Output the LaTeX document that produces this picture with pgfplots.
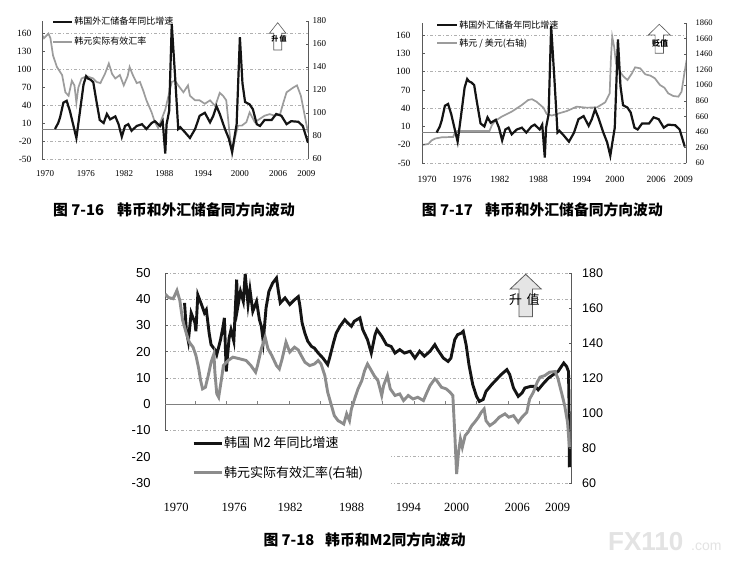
\documentclass[border=0pt]{standalone}
\usepackage{pgfplots}
\pgfplotsset{compat=1.18}
\usepackage{pgfplotstable}
\usepackage{fontspec}
\setmainfont{Liberation Serif}
\setsansfont{Liberation Sans}
\newfontfamily\cjk{Noto Sans CJK SC}
\definecolor{ink}{HTML}{141414}
\definecolor{ltgray}{HTML}{9C9C9C}
\definecolor{midgray}{HTML}{8C8C8C}
\definecolor{axgray}{HTML}{5A5A5A}
\definecolor{gridc}{HTML}{B0B0B0}
\newcommand\fsz[1]{\fontsize{#1bp}{#1bp}\selectfont}

% reserve growth (chart 7-16 and 7-17), %
\pgfplotstableread{
x y
1971.5 0
1972.0 10
1972.3 20
1972.8 44
1973.3 47
1973.8 30
1974.4 3
1974.8 -15
1975.3 25
1975.9 74
1976.3 88
1976.6 84
1977.0 82
1977.4 78
1977.8 52
1978.4 15
1979.0 10
1979.5 25
1980.0 16
1980.8 21
1981.3 8
1981.8 -13
1982.3 5
1982.8 8
1983.3 -3
1984.1 5
1984.9 8
1985.6 0
1986.4 10
1986.9 13
1987.7 5
1988.1 13
1988.5 -41
1988.7 8
1989.1 30
1989.5 175
1990.0 90
1990.5 0
1990.8 3
1991.5 -5
1992.3 -15
1993.1 0
1993.8 22
1994.6 27
1995.4 11
1995.9 22
1996.4 38
1996.9 25
1997.7 0
1998.3 -16
1998.8 -38
1999.1 -18
1999.5 8
2000.0 153
2000.4 76
2000.8 45
2001.5 41
2002.0 33
2002.6 8
2003.1 5
2003.8 15
2004.9 15
2005.6 25
2006.4 22
2007.2 8
2007.9 13
2009.0 12
2009.7 5
2010.5 -23
}\resgrowth

% real effective exchange rate (chart 7-16)
\pgfplotstableread{
x y
1969.5 168
1969.8 165
1970.5 169
1970.8 165
1971.2 150
1971.8 140
1972.6 133
1973.1 118
1973.6 115
1974.1 128
1974.5 124
1974.8 109
1975.1 122
1975.6 130
1976.4 132
1977.4 130
1977.9 127
1978.5 126
1979.2 134
1979.8 143
1980.3 134
1980.8 130
1981.5 133
1982.1 124
1982.7 132
1983.0 140
1983.5 133
1984.1 126
1984.6 127
1985.1 119.5
1985.6 111
1986.4 100.5
1986.9 92
1987.4 87
1987.9 94
1988.5 103
1989.0 115
1989.5 127
1990.0 128
1990.5 124
1991.3 118
1992.0 124
1992.3 115
1993.1 111
1993.8 111
1994.6 108
1995.4 111
1996.2 106
1996.9 117.5
1997.4 115
1997.9 111
1998.4 83
1998.8 64
1999.2 77
1999.7 89
2000.3 89
2001.0 92
2001.5 100.5
2002.3 92
2003.1 95
2003.8 97.6
2004.6 99
2005.4 97.6
2006.2 99
2006.7 109
2007.2 118
2008.2 122
2008.8 124
2009.4 115
2010.0 97.6
2010.5 83
}\reerA

% KRW per USD (chart 7-17)
\pgfplotstableread{
x y
1969.2 291
1970.2 305
1970.7 350
1971.3 375
1972.3 390
1974.1 395
1974.4 455
1974.7 470
1979.8 470
1980.2 549
1980.7 600
1981.7 655
1983.3 720
1984.9 806
1985.9 870
1986.5 880
1987.2 848
1988.3 770
1988.8 690
1989.6 670
1990.4 690
1992.0 729
1993.5 784
1995.1 771
1996.7 775
1998.0 840
1998.7 956
1998.9 1406
1999.1 1684
1999.4 1556
1999.7 1342
2000.3 1234
2000.9 1170
2001.5 1127
2002.2 1213
2002.7 1290
2003.5 1277
2004.3 1200
2005.1 1183
2005.8 1149
2006.6 1063
2007.3 1028
2007.9 956
2008.7 921
2009.5 913
2010.0 977
2010.4 1192
2010.8 1385
}\krwusd

% M2 growth (chart 7-18), %
\pgfplotstableread{
x y
1970.9 38.6
1971.1 27.8
1971.3 24
1971.6 34.8
1972.0 31
1972.1 27.8
1972.3 41.7
1972.7 37.9
1973.0 34.8
1973.2 36
1973.5 27
1973.7 22.7
1974.1 20.8
1974.3 18.9
1974.7 24.6
1975.0 30.3
1975.1 32.9
1975.3 12.5
1975.6 25.2
1975.8 28.4
1976.1 24
1976.4 47.5
1976.5 36.7
1976.8 43
1977.1 39.2
1977.3 49.6
1977.6 38
1977.8 43.7
1978.1 35.4
1978.5 39.2
1978.8 32.2
1979.0 29.7
1979.2 24
1979.5 36.7
1979.8 43
1980.2 46.2
1980.6 48.1
1980.8 43
1981.0 38.6
1981.5 40.5
1982.0 38
1982.5 39.8
1982.9 41
1983.05 38
1983.3 31
1983.6 27
1983.9 24
1984.3 22
1984.6 21.4
1985.0 19.5
1985.5 17.6
1986.0 15.1
1986.2 17.6
1986.6 23.3
1986.9 27.1
1987.3 29.7
1987.8 32.2
1988.1 31
1988.5 29.7
1988.8 31.6
1989.4 32.9
1989.7 28.4
1990.2 24.6
1990.6 19.5
1991.0 26.5
1991.2 28.4
1991.7 25.9
1992.2 22.7
1992.7 22
1993.1 19.5
1993.6 20.8
1994.1 19.5
1994.7 20.2
1995.2 17.6
1995.7 20.2
1996.2 18.3
1996.8 20.2
1997.3 22.7
1997.6 20.8
1998.2 17.6
1998.7 16.3
1999.0 17.6
1999.4 24.6
1999.7 26.5
2000.1 27.1
2000.3 27.8
2000.6 22.7
2000.9 15.1
2001.3 7.5
2001.7 3
2002.0 1.1
2002.4 1.8
2002.7 4.9
2003.3 7.5
2003.8 9.4
2004.3 11.3
2004.9 13.2
2005.2 11.3
2005.6 6.2
2006.1 3
2006.5 4.3
2006.8 6.2
2007.4 6.8
2007.9 6.8
2008.2 5.5
2008.8 8.1
2009.3 10
2009.8 11.3
2010.3 12.5
2010.9 15.7
2011.2 14.4
2011.4 12.5
2011.45 2
2011.5 -24
}\mtwo

% real effective exchange rate (chart 7-18)
\pgfplotstableread{
x y
1968.84 168
1969.2 166
1969.7 165.3
1970.1 170
1970.4 164.4
1970.7 153
1971.1 145.3
1971.4 140.5
1971.8 137.6
1972.1 132.9
1972.4 125.2
1972.6 118.5
1972.8 113.8
1973.1 114.7
1973.4 121.4
1973.7 129
1974.0 133.8
1974.1 123.3
1974.3 111
1974.5 109
1974.8 119.5
1975.0 127.1
1975.5 130
1976.0 131.9
1976.7 131
1977.4 130
1977.9 127.1
1978.4 123.3
1978.6 127.1
1979.0 136.7
1979.4 143.4
1979.7 136.7
1980.1 132.9
1980.6 127.1
1980.9 125.2
1981.2 131
1981.6 140.5
1982.0 134.8
1982.5 137.6
1982.9 136
1983.2 132.9
1983.6 129
1984.1 127.1
1984.6 128
1985.0 130
1985.3 128
1985.7 121.4
1986.0 111.9
1986.4 104.2
1986.7 98.5
1987.1 95.6
1987.4 94.7
1987.7 93.7
1988.0 99.5
1988.3 95.6
1988.5 102.3
1988.9 109
1989.2 113.8
1989.6 118.5
1989.9 124.3
1990.2 128
1990.5 125.2
1990.9 121.4
1991.3 118.5
1991.7 110
1991.9 115.7
1992.3 121.4
1992.6 113.8
1993.1 110
1993.6 110.9
1994.0 107.1
1994.5 110
1995.0 108
1995.5 109
1996.1 107.1
1996.4 110.9
1996.8 115.7
1997.3 119.5
1997.5 118.5
1998.0 114.7
1998.5 113.8
1998.9 111.9
1999.2 110
1999.4 89
1999.6 65.1
1999.8 77.5
2000.0 85.2
2000.2 80.4
2000.5 87.1
2000.8 89
2001.2 92.8
2001.5 94.7
2001.9 97.6
2002.2 100.4
2002.5 102.3
2002.7 95.6
2003.1 92.8
2003.6 94.7
2004.1 97.6
2004.7 99.5
2005.1 97.6
2005.6 98.5
2006.1 94.7
2006.5 97.6
2007.0 100.4
2007.3 108
2007.7 111.9
2008.1 117.6
2008.4 120.5
2008.9 121.4
2009.4 123.3
2010.0 123.7
2010.3 119.5
2010.7 110.9
2011.0 104.2
2011.3 94.7
2011.5 80.4
}\reerB

\pgfplotsset{
  base/.style={scale only axis, anchor=south west,
    axis line style={-, axgray, line width=0.6bp},
    tick align=inside, major tick length=2.5bp,
    tick style={axgray, line width=0.5bp},
    major grid style={gridc, line width=0.5bp, dash pattern=on 3bp off 2bp on 1bp off 2bp},
    legend cell align=left},
  lbot/.style={axis y line*=left, axis x line*=bottom,
    x axis line style={draw=none}, xtick style={draw=none}},
  rside/.style={axis x line=none, axis y line*=right},
}

\begin{document}
\begin{tikzpicture}[x=1bp,y=1bp]
\useasboundingbox (0,0) rectangle (733,565);
\fill[white] (0,0) rectangle (733,565);

%================ chart 7-16 ================
\begin{axis}[base, rside, at={(42bp,406bp)}, width=266bp, height=138bp,
  xmin=1969.5, xmax=2010.5, ymin=60, ymax=180,
  ytick={60,80,...,180}, yticklabels={60,80,100,120,140,160,180},
  yticklabel style={font=\fsz{9}, xshift=1bp},
  extra y ticks={60,75.65,106.96,138.26,169.57}, extra y tick labels={},
  extra y tick style={grid=major, major tick length=0pt}]
\addplot[ltgray, line width=1.7bp] table {\reerA};
\end{axis}
\begin{axis}[base, lbot, at={(42bp,406bp)}, width=266bp, height=138bp,
  xmin=1969.5, xmax=2010.5, ymin=-50, ymax=180,
  xtick={1970,1976.26,1982.15,1988.35,1994.35,2000,2005.9,2010.26},
  xticklabels={1970,1976,1982,1988,1994,2000,2006,2009},
  xticklabel style={font=\fsz{9}, yshift=-8bp},
  ytick={-50,-20,...,160}, yticklabels={-50,-20,10,40,70,100,130,160},
  yticklabel style={font=\fsz{9.5}, xshift=-7bp},
  legend style={at={(axis description cs:0,1)}, anchor=north west, xshift=10bp, yshift=5bp,
    draw=none, fill=none, inner xsep=0pt, inner ysep=0pt, row sep=9bp,
    font=\cjk\fsz{9}, nodes={inner sep=1bp}},
  legend image code/.code={\draw[#1] (0bp,0bp) -- (19bp,0bp);}]
\addplot[gray, line width=0.6bp, forget plot] coordinates {(1969.5,0) (2010.5,0)};
\addplot[ink, line width=2.2bp] table {\resgrowth};
\addlegendentry{韩国外汇储备年同比增速}
\addlegendimage{ltgray, line width=1.7bp}
\addlegendentry{韩元实际有效汇率}
\end{axis}

%================ chart 7-17 ================
\begin{axis}[base, rside, at={(422bp,402bp)}, width=264bp, height=140bp,
  xmin=1969.2, xmax=2010.7, ymin=60, ymax=1860,
  ytick={60,260,...,1860}, yticklabels={60,260,460,660,860,1060,1260,1460,1660,1860},
  yticklabel style={font=\fsz{8.5}, xshift=6bp},
  extra y ticks={60,294.8,764.3,1233.9,1703.5}, extra y tick labels={},
  extra y tick style={grid=major, major tick length=0pt}]
\addplot[ltgray, line width=1.7bp] table {\krwusd};
\end{axis}
\begin{axis}[base, lbot, at={(422bp,402bp)}, width=264bp, height=140bp,
  xmin=1969.2, xmax=2010.7, ymin=-50, ymax=180,
  xtick={1970,1975.45,1981.45,1987.5,1994.3,1999.5,2006,2010.3},
  xticklabels={1970,1976,1982,1988,1994,2000,2006,2009},
  xticklabel style={font=\fsz{9.5}, yshift=-10bp},
  ytick={-50,-20,...,160}, yticklabels={-50,-20,10,40,70,100,130,160},
  yticklabel style={font=\fsz{9.5}, xshift=-8bp},
  legend style={at={(axis description cs:0,1)}, anchor=north west, xshift=14bp, yshift=3.5bp,
    draw=none, fill=none, inner xsep=0pt, inner ysep=0pt, row sep=7bp,
    font=\cjk\fsz{9}, nodes={inner sep=1bp}},
  legend image code/.code={\draw[#1] (0bp,0bp) -- (20bp,0bp);}]
\addplot[gray, line width=0.6bp, forget plot] coordinates {(1969.2,0) (2010.7,0)};
\addplot[ink, line width=2.2bp] table {\resgrowth};
\addlegendentry{韩国外汇储备年同比增速}
\addlegendimage{ltgray, line width=1.7bp}
\addlegendentry{韩元 / 美元(右轴)}
\end{axis}

%================ chart 7-18 ================
\begin{axis}[base, lbot, at={(165bp,82bp)}, width=406.7bp, height=210bp,
  xmin=1968.84, xmax=2011.74, ymin=-30, ymax=50,
  xtick={1970,1976.12,1982.03,1988.53,1994.51,1999.61,2006,2010.26},
  xticklabels={1970,1976,1982,1988,1994,2000,2006,2009},
  xticklabel style={font=\fsz{12.5}, yshift=-17bp},
  ytick={-30,-20,...,50}, yticklabels={-30,-20,-10,0,10,20,30,40,50},
  yticklabel style={font=\sffamily\fsz{13}, xshift=-11bp},
  ymajorgrids]
\addplot[gray, line width=0.7bp, forget plot] coordinates {(1968.84,0) (2011.74,0)};
\pgfplotsinvokeforeach{1972.0,1975.3,1978.6,1981.9,1985.2,1988.5,1991.8,1995.1,1998.4,2001.7,2005.0,2008.3}{
  \draw[gray, line width=0.6bp] (axis cs:#1,0) -- ++(0bp,3bp);}
\addplot[ink, line width=2.9bp] table {\mtwo};
\end{axis}
\begin{axis}[base, rside, at={(165bp,82bp)}, width=406.7bp, height=210bp,
  xmin=1968.84, xmax=2011.74, ymin=60, ymax=180,
  ytick={60,80,...,180}, yticklabels={60,80,100,120,140,160,180},
  yticklabel style={font=\sffamily\fsz{12.5}, xshift=7bp},
  legend style={at={(axis description cs:0,0)}, anchor=south west, yshift=-2bp,
    draw=none, fill=white, inner xsep=27bp, inner ysep=5bp, row sep=15bp,
    font=\cjk\fsz{13}, nodes={inner sep=1bp}},
  legend image code/.code={\draw[#1] (0bp,0bp) -- (28bp,0bp);}]
\addlegendimage{ink, line width=2.9bp}
\addlegendentry{韩国 M2 年同比增速}
\addplot[midgray, line width=2.9bp] table {\reerB};
\addlegendentry{韩元实际有效汇率(右轴)}
\end{axis}

%================ arrows ================
\draw[axgray, line width=0.6bp, fill=white]
  (277.7,542.3) -- (286,531.7) -- (281.7,531.7) -- (281.7,515) -- (273.7,515) -- (273.7,531.7) -- (269.4,531.7) -- cycle;
\node[font=\cjk\bfseries\fsz{7}, inner sep=0] at (279,526) {升\,值};
\draw[axgray, line width=0.6bp, fill=white]
  (659.3,540.7) -- (670.3,530) -- (663.5,530) -- (663.5,511.7) -- (655.1,511.7) -- (655.1,530) -- (648.3,530) -- cycle;
\node[font=\cjk\bfseries\fsz{8}, inner sep=0] at (660,521.7) {贬值};
\draw[axgray, line width=0.8bp, fill=black!10]
  (525.7,290.7) -- (541.2,276) -- (532.4,276) -- (532.4,248.3) -- (519,248.3) -- (519,276) -- (510.2,276) -- cycle;
\node[font=\cjk\fsz{13}, inner sep=0] at (515.7,265) {升};
\node[font=\cjk\fsz{13}, inner sep=0] at (533,265) {值};

%================ captions ================
\node[anchor=west, inner sep=0, font=\cjk\bfseries\fsz{14.8}] at (53,355) {图 7-16};
\node[anchor=west, inner sep=0, font=\cjk\bfseries\fsz{14.8}] at (117,355) {韩币和外汇储备同方向波动};
\node[anchor=west, inner sep=0, font=\cjk\bfseries\fsz{14.8}] at (421.7,355) {图 7-17};
\node[anchor=west, inner sep=0, font=\cjk\bfseries\fsz{14.8}] at (485,355) {韩币和外汇储备同方向波动};
\node[anchor=west, inner sep=0, font=\cjk\bfseries\fsz{14.8}] at (263.3,25) {图 7-18};
\node[anchor=west, inner sep=0, font=\cjk\bfseries\fsz{14.8}] at (325,25) {韩币和M2同方向波动};

%================ watermark ================
\node[anchor=base west, inner sep=0, font=\sffamily\bfseries\fsz{26}, text=black!11] at (608,14.5) {FX110};
\node[anchor=base west, inner sep=0, font=\sffamily\fsz{14}, text=black!11] at (691,14.5) {.com};
\end{tikzpicture}
\end{document}
